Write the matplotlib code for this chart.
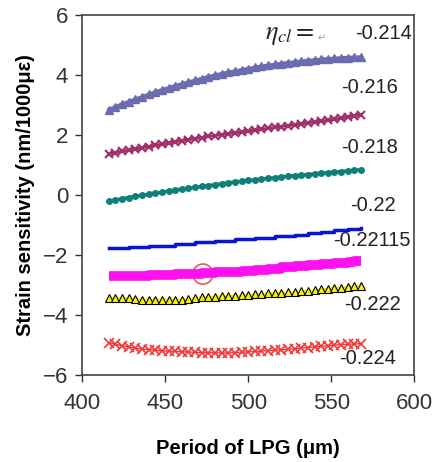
import matplotlib
matplotlib.use('Agg')
import matplotlib.pyplot as plt
from matplotlib.patches import Ellipse

plt.rcParams['font.family'] = ['Liberation Sans', 'DejaVu Sans']
plt.rcParams['mathtext.fontset'] = 'stix'

# period of LPG (um)
period = [416, 420, 424, 428, 432, 436, 440, 444, 448, 452, 456, 460, 464,
          468, 472, 476, 480, 484, 488, 492, 496, 500, 504, 508, 512, 516,
          520, 524, 528, 532, 536, 540, 544, 548, 552, 556, 560, 564, 568]

eta_labels = ['-0.214', '-0.216', '-0.218', '-0.22', '-0.22115', '-0.222', '-0.224']

s_214 = [2.85, 2.95, 3.04, 3.12, 3.2, 3.28, 3.36, 3.44, 3.51, 3.58, 3.65, 3.71, 3.77,
         3.83, 3.89, 3.95, 4.0, 4.05, 4.1, 4.14, 4.18, 4.22, 4.26, 4.3, 4.33, 4.36,
         4.39, 4.42, 4.44, 4.47, 4.49, 4.51, 4.53, 4.55, 4.56, 4.58, 4.59, 4.6, 4.61]
s_216 = [1.38, 1.42, 1.46, 1.5, 1.54, 1.58, 1.62, 1.66, 1.7, 1.74, 1.78, 1.82, 1.85,
         1.89, 1.92, 1.96, 1.99, 2.02, 2.05, 2.08, 2.11, 2.14, 2.17, 2.2, 2.23, 2.26,
         2.29, 2.32, 2.35, 2.38, 2.41, 2.44, 2.47, 2.5, 2.53, 2.57, 2.61, 2.65, 2.68]
s_218 = [-0.2, -0.16, -0.12, -0.08, -0.04, 0.0, 0.03, 0.07, 0.1, 0.14, 0.17, 0.2, 0.23,
         0.26, 0.29, 0.32, 0.35, 0.38, 0.41, 0.44, 0.46, 0.49, 0.51, 0.54, 0.56, 0.58,
         0.61, 0.63, 0.65, 0.67, 0.69, 0.71, 0.73, 0.75, 0.77, 0.79, 0.81, 0.83, 0.85]
s_220 = [-1.77, -1.77, -1.77, -1.72, -1.72, -1.72, -1.68, -1.68, -1.68, -1.68, -1.62, -1.62, -1.62,
         -1.57, -1.57, -1.57, -1.52, -1.52, -1.52, -1.47, -1.47, -1.47, -1.42, -1.42, -1.42, -1.37,
         -1.37, -1.37, -1.32, -1.32, -1.27, -1.27, -1.22, -1.22, -1.17, -1.17, -1.13, -1.13, -1.1]
s_22115 = [-2.7, -2.7, -2.7, -2.7, -2.7, -2.7, -2.67, -2.67, -2.67, -2.67, -2.63, -2.63, -2.63,
           -2.63, -2.6, -2.6, -2.57, -2.57, -2.55, -2.55, -2.52, -2.52, -2.48, -2.48, -2.45, -2.45,
           -2.4, -2.4, -2.37, -2.37, -2.33, -2.33, -2.3, -2.3, -2.27, -2.27, -2.23, -2.2, -2.2]
s_222 = [-3.42, -3.42, -3.42, -3.44, -3.47, -3.48, -3.48, -3.48, -3.48, -3.48, -3.48, -3.48, -3.47,
         -3.42, -3.4, -3.39, -3.38, -3.37, -3.36, -3.35, -3.34, -3.33, -3.31, -3.29, -3.27, -3.26,
         -3.25, -3.24, -3.22, -3.2, -3.18, -3.16, -3.14, -3.12, -3.1, -3.08, -3.06, -3.04, -3.02]
s_224 = [-4.92, -4.97, -5.02, -5.06, -5.1, -5.13, -5.15, -5.17, -5.19, -5.2, -5.21, -5.22, -5.23,
         -5.24, -5.25, -5.25, -5.26, -5.26, -5.26, -5.25, -5.24, -5.22, -5.21, -5.2, -5.18, -5.17,
         -5.15, -5.13, -5.12, -5.1, -5.08, -5.06, -5.04, -5.02, -5.0, -4.98, -4.97, -4.96, -4.95]

# label positions (x, y) in data units
label_x = [599, 590, 590, 589, 598, 592, 589]
label_y = [5.4, 3.6, 1.6, -0.35, -1.5, -3.65, -5.45]

fig = plt.figure(figsize=(4.35, 4.62), dpi=100)
ax = fig.add_axes([0.189, 0.188, 0.763, 0.779])

ax.plot(period, s_214, '^', color='#6b6bb0', ms=5.5, mec='#6b6bb0', ls='-', lw=2.5)
ax.plot(period, s_216, 'x', color='#a0306a', ms=6, mew=1.5, ls='-', lw=2)
ax.plot(period, s_218, 'o', color='#0f8078', ms=4, ls='-', lw=2.5)
ax.plot(period, s_220, color='#0a14d8', lw=2.5, drawstyle='steps-post')
ax.plot(period, s_22115, color='#ff10f0', lw=7, drawstyle='steps-post', solid_capstyle='butt')
ax.plot(period, s_222, '^', color='#f5f500', mec='black', mew=0.8, ms=6, ls='-', lw=1.5)
ax.plot(period, s_224, 'x', color='#f03838', ms=7, mew=1.2, ls='-', lw=1)

# red circle marking the point of interest
ax.add_patch(Ellipse((472.7, -2.63), 12, 0.67, fill=False, ec='#e05a5a', lw=1.2))

for lab, lx, ly in zip(eta_labels, label_x, label_y):
    ax.text(lx, ly, lab, ha='right', va='center', fontsize=14.5, color='#222222')
ax.text(510, 5.35, r'$\eta_{cl}=$', ha='left', va='center', fontsize=19, color='#222222')
ax.text(544.5, 5.22, '\u21b5', ha='center', va='center', fontsize=7, color='#999999',
        family=['DejaVu Sans'])

ax.set_xlim(400, 600)
ax.set_ylim(-6, 6)
ax.set_xticks([400, 450, 500, 550, 600])
ax.set_yticks([-6, -4, -2, 0, 2, 4, 6])
ax.tick_params(direction='out', length=5, width=1, colors='#333333', labelsize=16, pad=5)
ax.tick_params(axis='x', pad=8)
for sp in ax.spines.values():
    sp.set_color('#444444')
    sp.set_linewidth(1.2)

ax.set_xlabel('Period of LPG (\u03bcm)', fontsize=14.5, fontweight='bold', labelpad=18)
ax.set_ylabel('Strain sensitivity (nm/1000\u03bc\u03b5)', fontsize=14.5, fontweight='bold', labelpad=6)

fig.savefig('out.png', dpi=100)
